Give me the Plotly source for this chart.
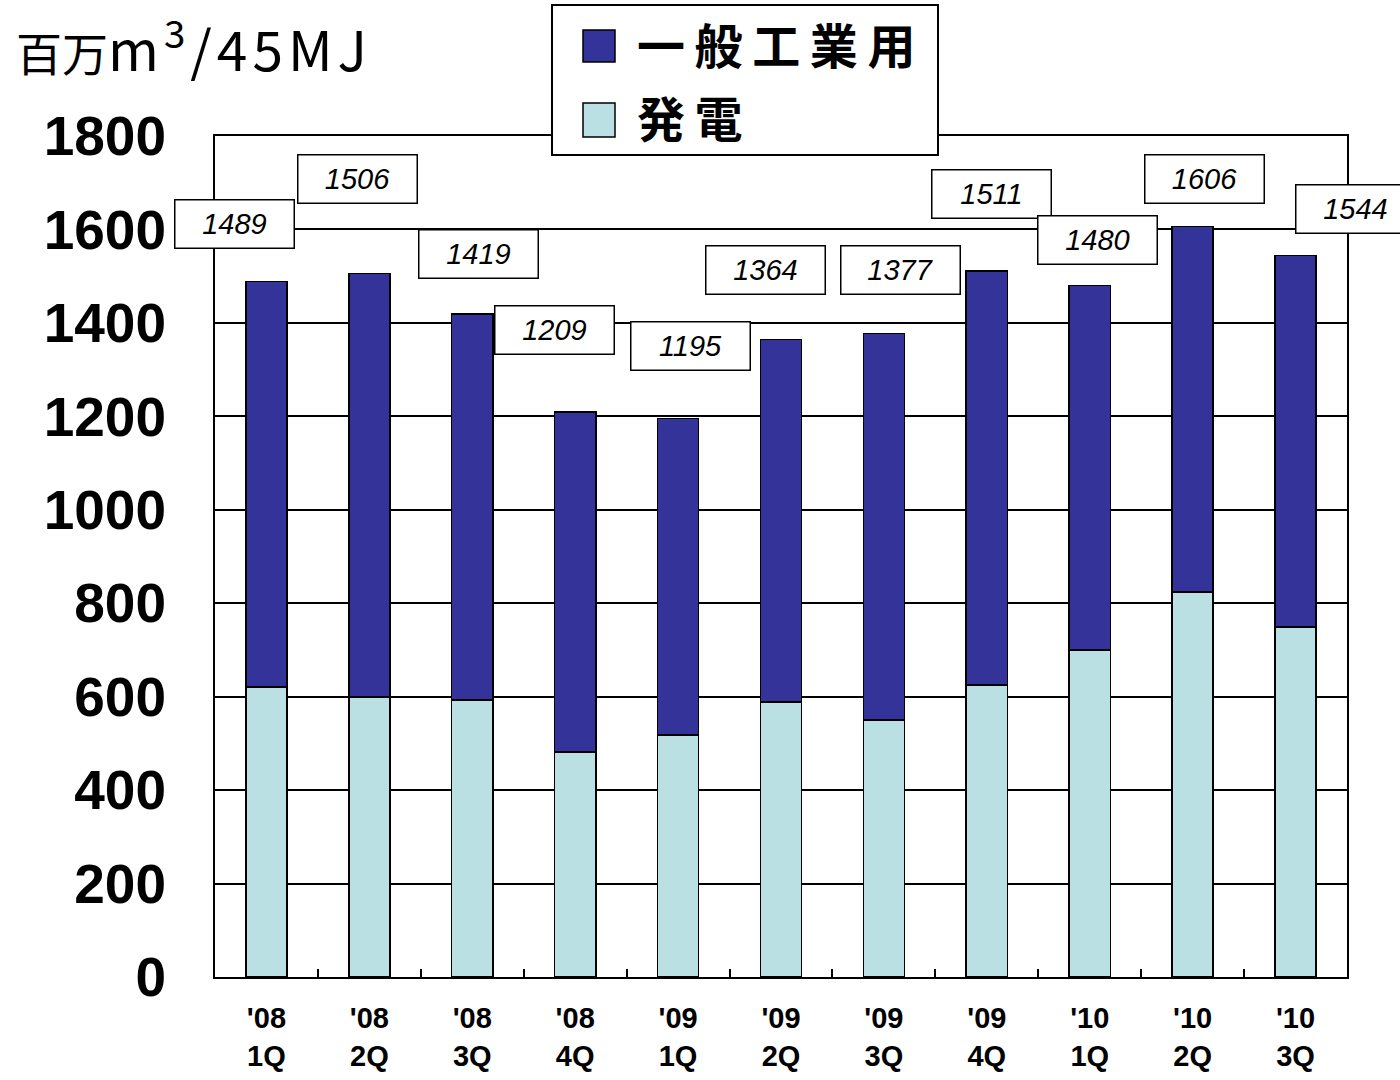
import plotly.graph_objects as go

categories = ["'08<br>1Q", "'08<br>2Q", "'08<br>3Q", "'08<br>4Q",
              "'09<br>1Q", "'09<br>2Q", "'09<br>3Q", "'09<br>4Q",
              "'10<br>1Q", "'10<br>2Q", "'10<br>3Q"]
totals = [1489, 1506, 1419, 1209, 1195, 1364, 1377, 1511, 1480, 1606, 1544]
power = [621, 599, 593, 482, 518, 589, 550, 625, 700, 824, 749]
industrial = [t - p for t, p in zip(totals, power)]

label_xshift = [-32, -12, 6, -21, 12, -16, 17, 5, 8, 12, 60]
label_yshift = [57, 94, 60, 82, 73, 70, 64, 77, 46, 48, 47]

DARK = "#333399"
LIGHT = "#BBE0E3"

L, R, T, B = 215, 1347, 136, 977
W, H = R - L, B - T


def px2x(px):
    return (px - L) / W


def py2y(py):
    return (B - py) / H


fig = go.Figure()
fig.add_trace(go.Bar(x=categories, y=power, name="発電",
                     marker=dict(color=LIGHT, line=dict(color="black", width=1.5)),
                     width=0.4))
fig.add_trace(go.Bar(x=categories, y=industrial, name="一般工業用",
                     marker=dict(color=DARK, line=dict(color="black", width=1.5)),
                     width=0.4))

annotations = []
for c, t, dx, dy in zip(categories, totals, label_xshift, label_yshift):
    annotations.append(dict(
        x=c, y=t, xref="x", yref="y", text=str(t), showarrow=False,
        xshift=dx, yshift=dy,
        font=dict(family="Liberation Sans, Arial", size=29, color="black", style="italic"),
        bgcolor="white", bordercolor="black", borderwidth=1.5, borderpad=2,
        width=114, height=43,
    ))

# unit label
annotations.append(dict(
    x=px2x(14), y=py2y(45), xref="paper", yref="paper", xanchor="left", yanchor="middle",
    text="百万<span style=\"font-size:55px;letter-spacing:5px\">m<sup>3</sup>/45MJ</span>",
    showarrow=False,
    font=dict(family="Noto Sans CJK JP", size=46, color="black")))

# legend texts
annotations.append(dict(
    x=px2x(635), y=py2y(43), xref="paper", yref="paper", xanchor="left", yanchor="middle",
    text="一\u2009般\u2009工\u2009業\u2009用", showarrow=False,
    font=dict(family="Noto Sans CJK JP", size=48, color="black", weight="bold")))
annotations.append(dict(
    x=px2x(635), y=py2y(116), xref="paper", yref="paper", xanchor="left", yanchor="middle",
    text="発\u2009電", showarrow=False,
    font=dict(family="Noto Sans CJK JP", size=48, color="black", weight="bold")))

shapes = [
    dict(type="rect", xref="paper", yref="paper", layer="above",
         x0=px2x(552), x1=px2x(938), y0=py2y(155), y1=py2y(5),
         fillcolor="white", line=dict(color="black", width=2)),
    dict(type="rect", xref="paper", yref="paper", layer="above",
         x0=px2x(583), x1=px2x(615), y0=py2y(62), y1=py2y(30),
         fillcolor=DARK, line=dict(color="black", width=1.5)),
    dict(type="rect", xref="paper", yref="paper", layer="above",
         x0=px2x(583), x1=px2x(615), y0=py2y(137), y1=py2y(103),
         fillcolor=LIGHT, line=dict(color="black", width=1.5)),
]

fig.update_layout(
    barmode="stack",
    width=1400, height=1080,
    margin=dict(l=L, r=1400 - R, t=T, b=1080 - B),
    paper_bgcolor="white", plot_bgcolor="white",
    showlegend=False,
    annotations=annotations,
    shapes=shapes,
)
fig.update_yaxes(
    range=[0, 1800], dtick=200, tick0=0, automargin=False,
    showgrid=True, gridcolor="black", gridwidth=2,
    showline=True, linecolor="black", linewidth=2, mirror=True,
    ticks="inside", ticklen=8, tickwidth=2, tickcolor="black",
    ticklabelstandoff=36,
    tickfont=dict(family="Liberation Sans, Arial", size=55, color="black", weight="bold"),
    zeroline=False,
)
fig.update_xaxes(
    range=[-0.5, len(categories) - 0.5], automargin=False,
    showline=True, linecolor="black", linewidth=2, mirror=True,
    tickson="boundaries", ticks="inside", ticklen=8, tickwidth=2, tickcolor="black",
    ticklabelstandoff=14,
    tickfont=dict(family="Liberation Sans Narrow, Liberation Sans, Arial", size=29,
                  color="black", weight="bold"),
)

fig.write_html("out.html")
